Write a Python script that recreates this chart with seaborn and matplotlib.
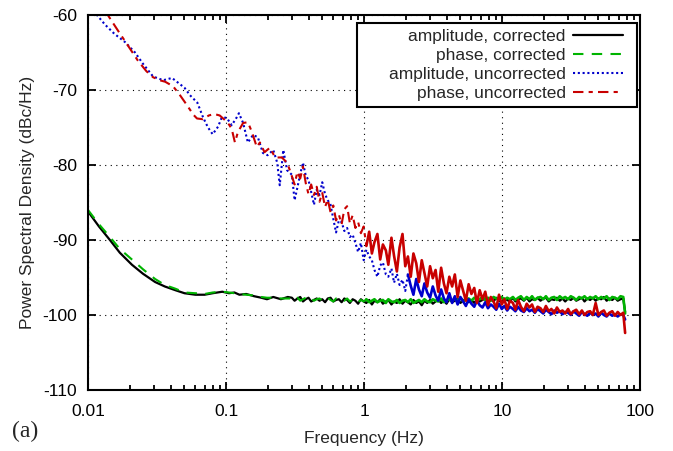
import numpy as np
import pandas as pd
import matplotlib
matplotlib.use("Agg")
import matplotlib.pyplot as plt
import matplotlib.ticker as mticker
from matplotlib.patches import Rectangle
import seaborn as sns

# ---- data ----
# shared dense grid for the noisy part (Hz), 0.3 Hz up to the end of the sweep
f_hi = [0.300, 0.314, 0.329, 0.345, 0.361, 0.378, 0.396, 0.414, 0.434, 0.454,
        0.476, 0.498, 0.522, 0.546, 0.572, 0.599, 0.627, 0.657, 0.688, 0.720,
        0.754, 0.790, 0.827, 0.866, 0.906, 0.949, 0.994, 1.04, 1.09, 1.14,
        1.19, 1.25, 1.31, 1.37, 1.44, 1.50, 1.58, 1.65, 1.73, 1.81,
        1.90, 1.99, 2.08, 2.18, 2.28, 2.39, 2.50, 2.62, 2.74, 2.87,
        3.01, 3.15, 3.30, 3.45, 3.62, 3.79, 3.96, 4.15, 4.35, 4.55,
        4.77, 4.99, 5.23, 5.47, 5.73, 6.00, 6.29, 6.58, 6.89, 7.22,
        7.56, 7.91, 8.29, 8.68, 9.08, 9.51, 9.96, 10.4, 10.9, 11.4,
        12.0, 12.5, 13.1, 13.7, 14.4, 15.1, 15.8, 16.5, 17.3, 18.1,
        19.0, 19.9, 20.8, 21.8, 22.8, 23.9, 25.0, 26.2, 27.4, 28.7,
        30.1, 31.5, 33.0, 34.5, 36.2, 37.9, 39.6, 41.5, 43.5, 45.5,
        47.7, 49.9, 52.3, 54.7, 57.3, 60.0, 62.9, 65.8, 68.9, 72.2,
        75.6, 78.0]

# corrected curves, low-frequency part
f_lo_corr = [0.0100, 0.0120, 0.0144, 0.0170, 0.0208, 0.0250, 0.0306, 0.0360,
             0.0430, 0.0500, 0.0600, 0.0700, 0.0800, 0.0940, 0.1050, 0.1150,
             0.1250, 0.1400, 0.1600, 0.1800, 0.1980, 0.2200, 0.2500, 0.2800]
amp_corr_lo = [-86.2, -88.2, -90.0, -91.7, -93.3, -94.5, -95.6, -96.2,
               -96.7, -97.1, -97.3, -97.3, -97.1, -96.9, -97.1, -97.0,
               -97.3, -97.2, -97.5, -97.7, -97.9, -97.6, -97.9, -97.6]
ph_corr_lo = [-86.0, -87.9, -89.6, -91.2, -92.6, -93.9, -95.2, -96.0,
              -96.5, -97.0, -97.1, -97.2, -97.0, -96.9, -97.0, -97.1,
              -97.2, -97.3, -97.4, -97.6, -97.7, -97.7, -97.8, -97.8]
amp_corr_hi = [-97.7, -98.1, -97.8, -97.6, -98.2, -97.9, -97.7, -98.2, -98.0, -97.8,
               -98.1, -97.9, -98.3, -97.8, -97.7, -98.2, -98.0, -97.9, -98.3, -97.8,
               -98.0, -98.4, -97.9, -98.1, -98.5, -97.9, -98.2, -98.4, -98.0, -98.6,
               -98.1, -98.3, -97.9, -98.5, -98.2, -98.0, -98.6, -98.2, -98.4, -97.9,
               -98.5, -98.1, -98.3, -98.6, -98.0, -98.4, -98.2, -98.7, -98.1, -98.4,
               -98.0, -98.5, -98.2, -97.9, -98.4, -98.1, -98.5, -97.9, -98.3, -98.1,
               -97.9, -98.4, -98.1, -97.8, -98.3, -98.0, -98.4, -97.9, -98.2, -98.0,
               -97.8, -98.3, -97.9, -98.2, -97.7, -98.1, -98.3, -97.8, -98.0, -98.2,
               -97.7, -98.2, -97.9, -97.8, -98.1, -97.7, -98.2, -97.9, -98.0, -97.7,
               -98.1, -97.8, -97.7, -98.2, -97.9, -98.0, -97.7, -98.1, -97.8, -98.2,
               -97.8, -98.0, -97.7, -98.1, -97.9, -97.7, -98.2, -97.8, -98.0, -97.7,
               -98.1, -97.8, -97.9, -97.6, -98.1, -97.8, -98.0, -97.7, -98.1, -97.9,
               -97.8, -99.6]
ph_corr_hi = [-97.8, -98.0, -97.7, -98.1, -97.9, -97.7, -98.0, -97.8, -98.1, -97.9,
              -97.8, -98.1, -97.9, -97.7, -98.0, -98.2, -97.8, -98.0, -97.9, -98.1,
              -97.8, -98.2, -98.0, -97.9, -98.3, -98.0, -98.2, -97.9, -98.3, -98.1,
              -97.9, -98.3, -98.1, -98.0, -98.4, -97.9, -98.2, -98.3, -98.0, -98.4,
              -98.1, -98.0, -98.3, -97.9, -98.4, -98.2, -98.0, -98.3, -97.9, -98.2,
              -98.3, -97.9, -98.1, -98.2, -97.8, -98.3, -98.0, -97.9, -98.2, -97.8,
              -98.1, -97.7, -98.2, -97.9, -97.8, -98.1, -97.7, -98.0, -97.9, -97.6,
              -98.0, -97.7, -98.1, -97.6, -97.8, -98.0, -97.6, -98.0, -97.7, -97.9,
              -97.6, -98.0, -97.7, -97.5, -98.0, -97.6, -97.9, -97.5, -98.0, -97.7,
              -97.6, -97.9, -97.5, -98.0, -97.7, -97.6, -98.0, -97.5, -97.8, -97.6,
              -97.9, -97.5, -97.7, -98.0, -97.6, -97.8, -97.5, -97.9, -97.6, -97.8,
              -97.5, -97.9, -97.6, -97.8, -97.5, -98.0, -97.6, -97.7, -97.9, -97.5,
              -97.6, -99.8]

# amplitude, uncorrected
f_lo_amp = [0.0105, 0.0116, 0.0133, 0.0155, 0.0185, 0.0219, 0.0250, 0.0296,
            0.0350, 0.0406, 0.0440, 0.0500, 0.0548, 0.0620, 0.0680, 0.0740,
            0.0800, 0.0875, 0.0930, 0.1010, 0.1100, 0.1200, 0.1240, 0.1330,
            0.1440, 0.1570, 0.1700, 0.1850, 0.2000, 0.2200, 0.2350, 0.2450,
            0.2600, 0.2770]
amp_unc_lo = [-58.9, -60.0, -61.3, -62.5, -63.6, -65.0, -66.5, -68.2,
              -68.7, -68.4, -68.9, -69.7, -70.7, -71.7, -73.6, -75.0,
              -75.9, -74.9, -73.7, -73.7, -74.7, -73.6, -73.1, -74.4,
              -77.0, -76.0, -76.3, -78.4, -78.7, -78.0, -79.7, -82.7,
              -78.0, -80.7]
amp_unc_hi = [-81.3, -84.7, -83.0, -81.2, -79.7, -81.4, -82.0, -83.6, -85.3, -83.3,
              -84.0, -82.3, -83.9, -84.7, -85.3, -87.2, -89.0, -87.4, -87.6, -88.8,
              -88.4, -89.6, -89.3, -90.4, -91.6, -90.4, -92.7, -91.3, -92.2, -92.7,
              -94.0, -94.9, -93.4, -93.0, -94.6, -94.9, -93.8, -95.7, -94.5, -96.0,
              -95.3, -96.8, -94.6, -96.1, -97.3, -95.2, -96.6, -97.5, -95.8, -97.0,
              -97.7, -96.2, -97.4, -98.1, -96.6, -97.8, -98.3, -97.1, -98.4, -97.5,
              -98.6, -97.6, -98.2, -98.8, -97.9, -98.5, -98.9, -98.1, -98.7, -99.0,
              -98.3, -99.1, -98.6, -98.9, -99.3, -98.5, -99.2, -98.8, -99.4, -98.9,
              -99.2, -99.5, -98.9, -99.4, -99.6, -99.1, -99.5, -99.3, -99.7, -99.2,
              -99.5, -99.8, -99.3, -99.6, -99.9, -99.4, -99.7, -99.5, -99.9, -99.6,
              -99.7, -100.0, -99.5, -99.8, -100.1, -99.6, -99.9, -100.1, -99.7, -100.0,
              -99.8, -100.2, -99.7, -100.0, -100.2, -99.8, -100.1, -99.9, -100.2, -99.9,
              -100.0, -100.6]

# phase, uncorrected
f_lo_ph = [0.0120, 0.0139, 0.0165, 0.0195, 0.0230, 0.0265, 0.0296, 0.0330,
           0.0362, 0.0413, 0.0460, 0.0520, 0.0580, 0.0616, 0.0680, 0.0750,
           0.0820, 0.0900, 0.0980, 0.1050, 0.1100, 0.1160, 0.1220, 0.1330,
           0.1440, 0.1540, 0.1670, 0.1760, 0.1900, 0.2080, 0.2270, 0.2540,
           0.2770, 0.2900]
ph_unc_lo = [-58.4, -60.0, -62.1, -64.1, -66.1, -67.5, -68.3, -68.7,
             -68.9, -69.5, -70.6, -72.0, -73.3, -73.8, -73.9, -73.4,
             -73.2, -73.4, -74.0, -74.6, -75.2, -77.0, -75.6, -74.4,
             -74.3, -75.6, -77.6, -77.0, -78.3, -77.7, -79.0, -79.0,
             -79.7, -80.7]
ph_unc_hi = [-81.5, -82.6, -80.9, -81.8, -80.2, -82.4, -83.9, -82.6, -84.0, -82.9,
             -84.9, -83.7, -85.6, -84.6, -86.3, -85.4, -87.4, -86.6, -87.9, -85.9,
             -85.5, -87.8, -86.7, -88.4, -87.6, -89.1, -88.2, -90.8, -88.9, -91.8,
             -90.3, -89.2, -92.6, -90.6, -91.4, -93.3, -89.7, -92.1, -94.2, -91.0,
             -89.2, -93.5, -92.2, -94.9, -91.8, -93.1, -95.6, -92.7, -94.4, -96.2,
             -93.5, -95.1, -94.0, -96.9, -93.7, -95.8, -97.1, -94.9, -96.2, -94.6,
             -97.6, -95.4, -96.8, -98.1, -95.9, -97.2, -96.4, -98.4, -96.7, -97.9,
             -96.9, -98.7, -97.6, -98.2, -99.1, -97.3, -98.6, -97.9, -99.2, -98.1,
             -98.4, -99.3, -98.0, -98.9, -99.5, -98.5, -99.0, -98.6, -99.6, -98.9,
             -99.1, -99.6, -98.8, -99.5, -99.2, -99.8, -99.0, -99.6, -99.4, -99.8,
             -99.2, -99.9, -99.5, -99.3, -99.9, -99.4, -100.0, -99.6, -99.5, -100.0,
             -98.4, -100.0, -99.6, -99.4, -100.1, -99.7, -99.5, -100.1, -99.6, -100.0,
             -99.7, -102.4]

labels = ["amplitude, corrected", "phase, corrected",
          "amplitude, uncorrected", "phase, uncorrected"]
colors = ["black", "#00b400", "#0000cc", "#c80000"]
styles = ["-", (0, (5, 4)), (0, (1, 1.3)), (0, (5, 2.5, 2, 2.5))]
# above this frequency the trace is so dense that it reads as a solid band
solid_from = [None, 1.0, 2.0, 1.0]

series = [
    (f_lo_corr + f_hi, amp_corr_lo + amp_corr_hi),
    (f_lo_corr + f_hi, ph_corr_lo + ph_corr_hi),
    (f_lo_amp + f_hi, amp_unc_lo + amp_unc_hi),
    (f_lo_ph + f_hi, ph_unc_lo + ph_unc_hi),
]

sns.set_style("ticks")
plt.rcParams["font.family"] = ["Liberation Sans", "DejaVu Sans"]
plt.rcParams["font.size"] = 12.5
plt.rcParams["axes.unicode_minus"] = False

fig = plt.figure(figsize=(6.73, 4.51), dpi=100)
ax = fig.add_axes([0.1308, 0.1353, 0.8202, 0.8315])

for (f, v), lab, col, ls, fs in zip(series, labels, colors, styles, solid_from):
    df = pd.DataFrame({"freq": f, "psd": v})
    if fs is None:
        sns.lineplot(data=df, x="freq", y="psd", ax=ax, color=col,
                     linestyle=ls, linewidth=1.6, label=lab, sort=False)
        continue
    k = int((df["freq"] < fs).sum())
    sns.lineplot(data=df.iloc[:k + 1], x="freq", y="psd", ax=ax, color=col,
                 linestyle=ls, linewidth=1.5, label=lab, sort=False)
    sns.lineplot(data=df.iloc[k:], x="freq", y="psd", ax=ax, color=col,
                 linestyle="-", linewidth=1.9, label="_nolegend_", sort=False)

ax.set_xscale("log")
ax.set_xlim(0.01, 100)
ax.set_ylim(-110, -60)
ax.set_yticks([-110, -100, -90, -80, -70, -60])
ax.xaxis.set_major_formatter(mticker.FuncFormatter(lambda v, _: f"{v:g}"))
ax.yaxis.set_minor_locator(mticker.NullLocator())

ax.grid(True, which="major", color="black", linewidth=0.8,
        linestyle=(0, (1, 4)))
ax.tick_params(which="both", direction="in", top=True, right=True,
               width=1.3, labelsize=12.5, colors="black")
ax.tick_params(which="major", length=6)
ax.tick_params(which="minor", length=3.5)
ax.tick_params(axis="y", pad=8)
ax.tick_params(axis="x", pad=10)
for sp in ax.spines.values():
    sp.set_visible(True)
    sp.set_linewidth(1.5)
    sp.set_color("black")

ax.set_xlabel("Frequency (Hz)", fontsize=12.5, labelpad=9)
ax.set_ylabel("Power Spectral Density (dBc/Hz)", fontsize=12.5, labelpad=5)

# legend box as in the reference (wider on the left than the entries)
ax.add_patch(Rectangle((0.4873, 0.7547), 0.5073, 0.224, transform=ax.transAxes,
                       facecolor="white", edgecolor="black", linewidth=1.5,
                       zorder=4.5))
handles, texts = ax.get_legend_handles_labels()
leg = ax.legend(handles, texts, loc="upper right",
                bbox_to_anchor=(0.9692, 0.962),
                borderaxespad=0, borderpad=0, markerfirst=False, frameon=False,
                handlelength=2.9, labelspacing=0.22, handletextpad=0.4,
                fontsize=12.5)
leg.set_zorder(5)

fig.text(0.018, 0.031, "(a)", fontsize=17,
         family=["Liberation Serif", "DejaVu Serif"])

fig.savefig("out.png", dpi=100)
